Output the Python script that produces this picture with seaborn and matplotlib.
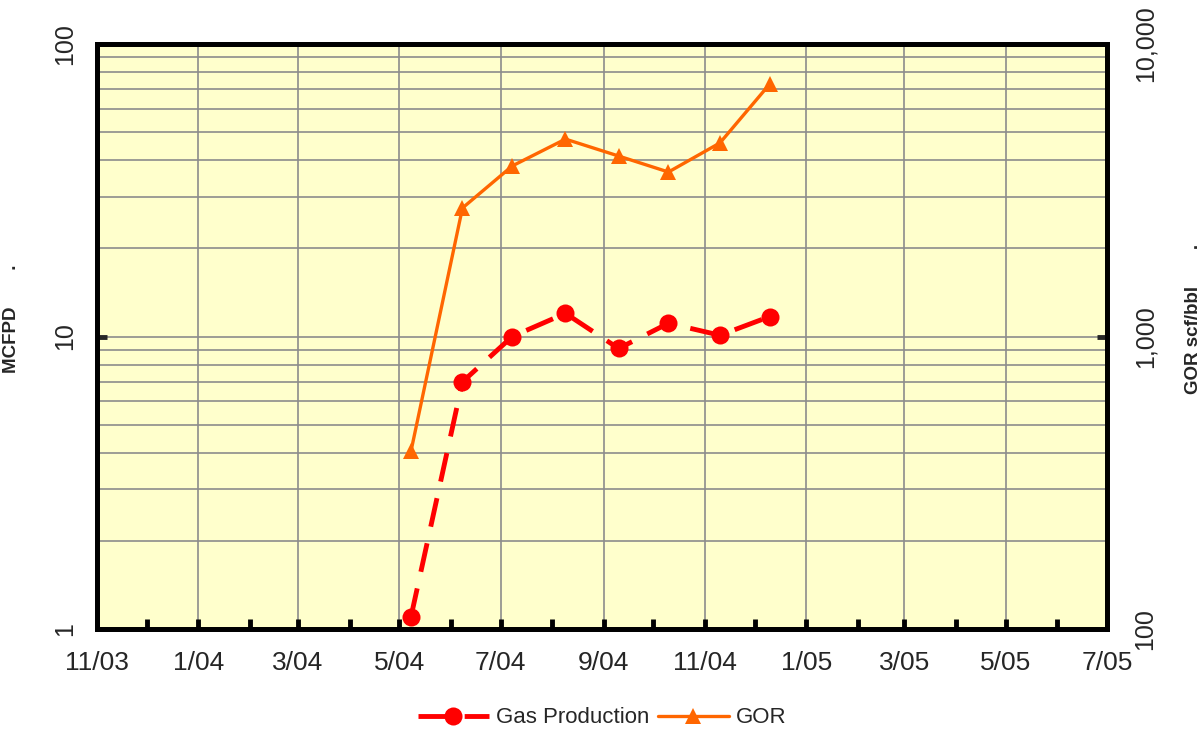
import pandas as pd
import matplotlib
matplotlib.use("Agg")
import matplotlib.pyplot as plt
import matplotlib.dates as mdates
from matplotlib.ticker import FixedLocator, NullFormatter, LogLocator, FuncFormatter
from matplotlib.lines import Line2D
import seaborn as sns

# data
dates = ["2004-05-08", "2004-06-08", "2004-07-08", "2004-08-09",
         "2004-09-10", "2004-10-10", "2004-11-10", "2004-12-10"]
gas_mcfpd = [1.1, 7.0, 10.0, 12.0, 9.1, 11.1, 10.1, 11.7]
gor_scf_bbl = [405, 2750, 3830, 4730, 4140, 3650, 4590, 7300]

x_start, x_end = "2003-11-01", "2005-07-01"

df = pd.DataFrame({"date": pd.to_datetime(dates), "gas": gas_mcfpd, "gor": gor_scf_bbl})

sns.set_style("white")
plt.rcParams["font.family"] = ["Liberation Sans", "DejaVu Sans"]

fig = plt.figure(figsize=(12.04, 7.34), dpi=100)
ax = fig.add_axes([97 / 1204, 105 / 734, 1010 / 1204, 585 / 734])
ax.set_facecolor("#FFFFCC")
ax2 = ax.twinx()

# Gas production (left axis)
sns.lineplot(data=df, x="date", y="gas", ax=ax, color="#FF0000", marker="o",
             markersize=13, markeredgewidth=0, linewidth=3.5,
             linestyle=(0, (6, 3.5)), zorder=3)
# GOR (right axis)
sns.lineplot(data=df, x="date", y="gor", ax=ax2, color="#FF6600", marker="^",
             markersize=12, markeredgewidth=0, linewidth=2.4, zorder=3)

ax.set_yscale("log")
ax2.set_yscale("log")
ax.set_ylim(1, 100)
ax2.set_ylim(100, 10000)
ax.set_xlim(pd.Timestamp(x_start), pd.Timestamp(x_end))

# x axis: labels every 2 months, tick every month
ax.xaxis.set_major_locator(mdates.MonthLocator(bymonth=[1, 3, 5, 7, 9, 11]))
ax.xaxis.set_minor_locator(mdates.MonthLocator(bymonth=[2, 4, 6, 8, 10, 12]))
ax.xaxis.set_major_formatter(FuncFormatter(
    lambda v, p: f"{mdates.num2date(v).month}/{mdates.num2date(v):%y}"))

# y axes
ax.yaxis.set_major_locator(FixedLocator([1, 10, 100]))
ax.yaxis.set_major_formatter(FuncFormatter(lambda v, p: f"{v:,.0f}"))
ax.yaxis.set_minor_locator(LogLocator(base=10, subs=range(2, 10)))
ax.yaxis.set_minor_formatter(NullFormatter())
ax2.yaxis.set_major_locator(FixedLocator([100, 1000, 10000]))
ax2.yaxis.set_major_formatter(FuncFormatter(lambda v, p: f"{v:,.0f}"))
ax2.yaxis.set_minor_locator(FixedLocator([]))

# grid
ax.grid(True, which="major", axis="x", color="#8C8C8C", linewidth=1.2)
ax.grid(True, which="both", axis="y", color="#8C8C8C", linewidth=1.2)
ax.set_axisbelow(True)
ax2.grid(False)

# ticks
ax.tick_params(axis="x", which="both", bottom=True, direction="in", length=7, width=3.5,
               color="black", labelsize=19, pad=16)
ax.tick_params(axis="y", which="major", left=True, direction="in", length=7, width=3.5,
               labelsize=18, pad=14, labelrotation=90)
ax.tick_params(axis="y", which="minor", left=False, length=0)
ax2.tick_params(axis="y", which="major", right=True, direction="in", length=7, width=3.5,
                labelsize=18, pad=19, labelrotation=90)
for lab in ax.get_yticklabels():
    lab.set_va("center")
for lab in ax2.get_yticklabels():
    lab.set_va("center")

for a in (ax, ax2):
    for s in a.spines.values():
        s.set_linewidth(3.5)
        s.set_color("black")

ax.set_xlabel("")
ax.set_ylabel("MCFPD       .", fontsize=13.5, fontweight="bold")
ax2.set_ylabel("GOR scf/bbl       .", fontsize=13.5, fontweight="bold", rotation=90)
ax.yaxis.set_label_coords(-0.076, 0.53)
ax2.yaxis.set_label_coords(1.077, 0.53)

handles = [
    Line2D([], [], color="#FF0000", marker="o", markersize=13, markeredgewidth=0,
           linewidth=3.5, linestyle=(0, (6, 3.5))),
    Line2D([], [], color="#FF6600", marker="^", markersize=12, markeredgewidth=0,
           linewidth=2.4),
]
fig.legend(handles, ["Gas Production", "GOR"], loc="center", bbox_to_anchor=(0.5, 0.022),
           ncol=2, frameon=False, fontsize=16, handlelength=3.2, columnspacing=0.4,
           handletextpad=0.3)

fig.savefig("out.png", dpi=100)
